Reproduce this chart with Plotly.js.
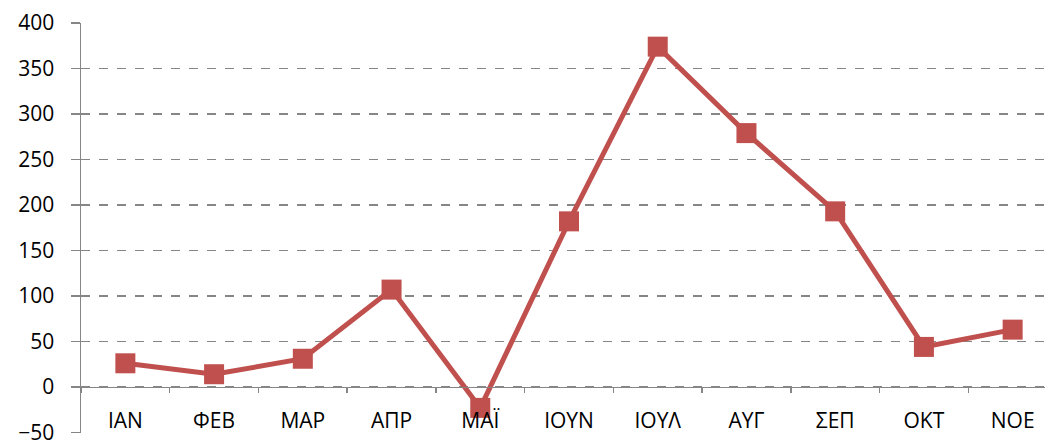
<!DOCTYPE html>
<html><head><meta charset="utf-8">
<script src="https://cdn.plot.ly/plotly-3.0.1.min.js"></script>
<style>html,body{margin:0;padding:0;overflow:hidden;background:#fff}</style>
</head><body>
<div id="chart"></div>
<script>
const months = ["ΙΑΝ","ΦΕΒ","ΜΑΡ","ΑΠΡ","ΜΑΪ","ΙΟΥΝ","ΙΟΥΛ","ΑΥΓ","ΣΕΠ","ΟΚΤ","ΝΟΕ"];
const values = [26, 14, 31, 107, -23, 182, 374, 279, 193, 44, 63];
const yTicks = [-50, 0, 50, 100, 150, 200, 250, 300, 350, 400];

const trace = {
  x: months, y: values, type: "scatter", mode: "lines+markers",
  xaxis: "x2", yaxis: "y",
  line: {color: "#C0504D", width: 5},
  marker: {symbol: "square", size: 20, color: "#C0504D"},
  cliponaxis: false
};
const layout = {
  width: 1070, height: 441,
  margin: {l: 81, r: 13, t: 23, b: 8},
  paper_bgcolor: "#fff", plot_bgcolor: "#fff",
  showlegend: false,
  font: {family: "Open Sans, Liberation Sans, sans-serif", size: 21, color: "#000"},
  xaxis: {
    range: [0, 1], anchor: "y",
    showline: false, ticks: "", showticklabels: false,
    showgrid: false, zeroline: false
  },
  xaxis2: {
    type: "category", range: [-0.5, 10.5], overlaying: "x",
    anchor: "free", position: 50.6/450.6, side: "bottom",
    showline: true, linecolor: "#868686", linewidth: 1.5,
    ticks: "outside", ticklen: 5, tickcolor: "#868686", tickwidth: 1.5,
    tickson: "boundaries", showgrid: false, zeroline: false,
    ticklabelstandoff: 14,
    tickfont: {size: 21}
  },
  yaxis: {
    range: [-50.6, 400], tickvals: yTicks, anchor: "x",
    showline: true, linecolor: "#868686", linewidth: 1.5,
    ticks: "outside", ticklen: 9, tickcolor: "#868686", tickwidth: 1.5,
    showgrid: true, gridcolor: "#868686", griddash: "dash", gridwidth: 1.3,
    zeroline: false, ticklabelstandoff: 12, ticklabeloverflow: "allow",
    tickfont: {size: 21}
  }
};
Plotly.newPlot("chart", [trace], layout, {displayModeBar: false, staticPlot: true});
</script>
</body></html>
